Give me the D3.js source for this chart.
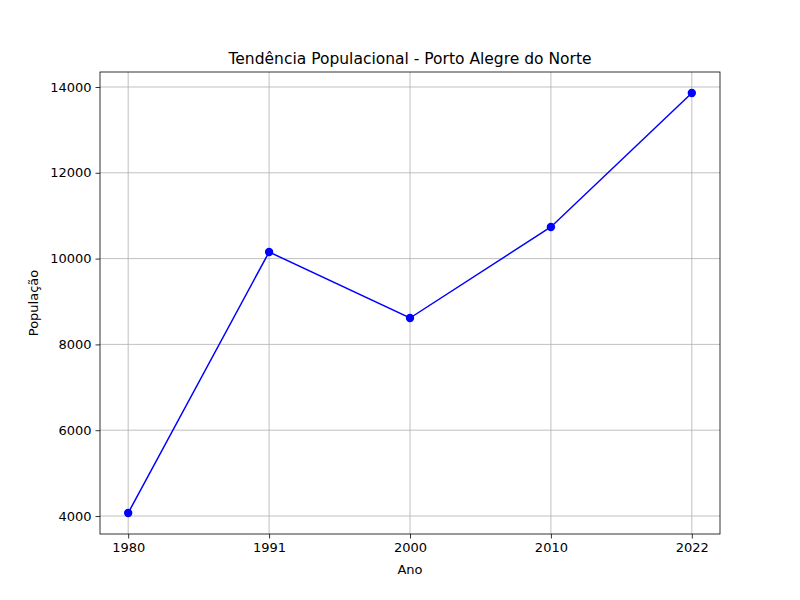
<!DOCTYPE html>
<html><head><meta charset="utf-8">
<script src="https://cdn.jsdelivr.net/npm/d3@7"></script>
<style>body{margin:0;background:#fff}text{font-family:"DejaVu Sans",sans-serif}</style>
</head><body><svg id="c" width="800" height="600"></svg>
<script>
const years = ["1980","1991","2000","2010","2022"];
const population = [4070, 10154, 8615, 10737, 13860];
const yTicks = [4000, 6000, 8000, 10000, 12000, 14000];

const L=100,R=720,T=72,B=534;
const svg=d3.select("#c");
const n=years.length, pad=(n-1)*0.05;
const xl=d3.scaleLinear().domain([-pad,n-1+pad]).range([L,R]);
const x=i=>xl(i);
const ymin=d3.min(population), ymax=d3.max(population), m=(ymax-ymin)*0.05;
const y=d3.scaleLinear().domain([ymin-m,ymax+m]).range([B,T]);

const g=svg.append("g");
years.forEach((d,i)=>g.append("line").attr("x1",x(i)).attr("x2",x(i)).attr("y1",T).attr("y2",B).attr("stroke","#b0b0b0").attr("stroke-width",0.8));
yTicks.forEach(v=>g.append("line").attr("x1",L).attr("x2",R).attr("y1",y(v)).attr("y2",y(v)).attr("stroke","#b0b0b0").attr("stroke-width",0.8));
const xa=svg.append("g").attr("transform",`translate(0,${B})`).call(d3.axisBottom(xl).tickValues(d3.range(n)).tickFormat(i=>years[i]).tickSize(4.5).tickPadding(4));
const ya=svg.append("g").attr("transform",`translate(${L},0)`).call(d3.axisLeft(y).tickValues(yTicks).tickFormat(d3.format("d")).tickSize(4.5).tickPadding(4));
[xa,ya].forEach(a=>{a.select(".domain").remove();a.selectAll("text").attr("font-size",13).attr("fill","#000").style("font-family","DejaVu Sans");a.selectAll("line").attr("stroke","#000").attr("stroke-width",0.8);});
svg.append("rect").attr("x",L).attr("y",T).attr("width",R-L).attr("height",B-T).attr("fill","none").attr("stroke","#000").attr("stroke-width",0.8);
svg.append("path").datum(population).attr("fill","none").attr("stroke","#0000ff").attr("stroke-width",1.5)
 .attr("d",d3.line().x((d,i)=>x(i)).y(d=>y(d)));
svg.selectAll("circle.p").data(population).enter().append("circle").attr("cx",(d,i)=>x(i)).attr("cy",d=>y(d)).attr("r",4.2).attr("fill","#0000ff");
svg.append("text").attr("x",(L+R)/2).attr("y",64).attr("text-anchor","middle").attr("font-size",15.5).text("Tendência Populacional - Porto Alegre do Norte");
svg.append("text").attr("x",(L+R)/2).attr("y",574).attr("text-anchor","middle").attr("font-size",13).text("Ano");
svg.append("text").attr("transform",`translate(38,${(T+B)/2}) rotate(-90)`).attr("text-anchor","middle").attr("font-size",13).text("População");
</script></body></html>
